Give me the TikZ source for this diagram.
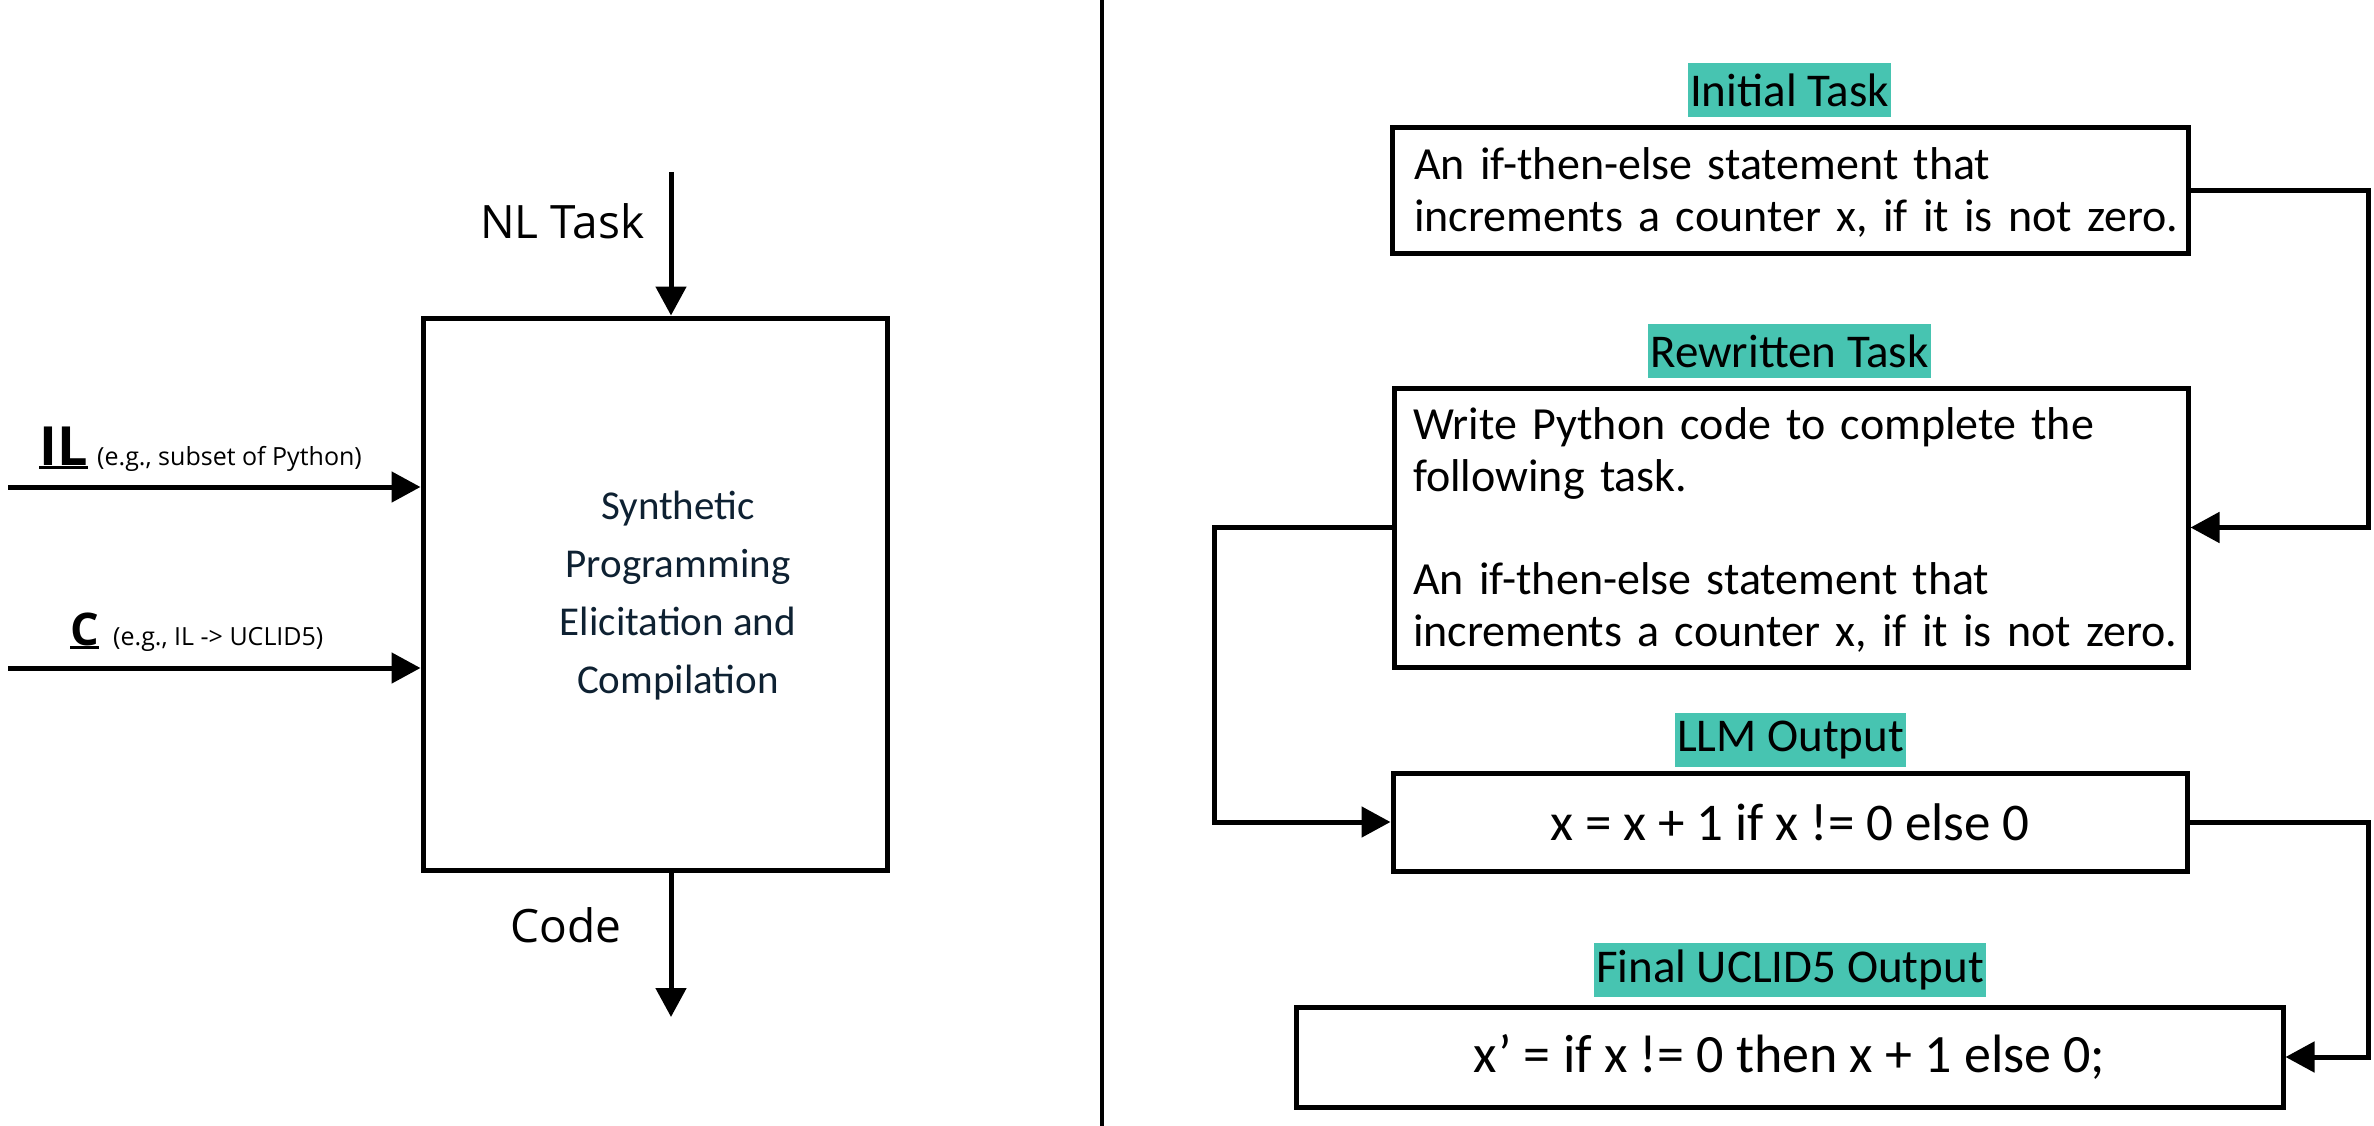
\documentclass[tikz,border=0pt]{standalone}
\usepackage{fontspec}
\setmainfont{Carlito}
\newfontfamily\plex{Open Sans}
\usetikzlibrary{arrows.meta}
\definecolor{tealhl}{HTML}{47C4B1}
\definecolor{navytxt}{HTML}{0E2132}
\newcommand\thickul[1]{\setbox0\hbox{#1}\rlap{\rule[-4pt]{\wd0}{3pt}}\box0}
\begin{document}
\begin{tikzpicture}[x=1pt,y=-1pt,
  conn/.style={line width=5pt},
  arr/.style={line width=5pt,-{Triangle[length=29pt,width=30pt]}},
  box/.style={draw,line width=5pt,inner sep=0pt},
  hl/.style={fill=tealhl,inner xsep=2pt,inner ysep=0pt,minimum height=54pt,font=\fontsize{47}{52}\selectfont},
  boxtext/.style={font=\fontsize{46}{52}\selectfont,align=left,text width=778pt,inner sep=0pt},
  plexlbl/.style={font=\plex\fontsize{46}{50}\selectfont,anchor=base west,inner sep=0pt},
  note/.style={font=\plex\fontsize{25}{28}\selectfont,anchor=base west,inner sep=0pt}]
\useasboundingbox (0,0) rectangle (2374,1126);

% ---------- left part ----------
\node[box,minimum width=464pt,minimum height=552pt] (spec) at (655,594) {};
\node[text=navytxt,align=center,font=\fontsize{41}{58}\selectfont] (spectext) at (678,596)
  {Synthetic\\Programming\\Elicitation and\\Compilation};

\coordinate (nl) at (671,172);
\draw[arr] (nl) -- (nl |- spec.north);
\node[plexlbl] (nllbl) at (480,238) {NL Task};

\coordinate (code) at (671,1017);
\draw[arr] (code |- spec.south) -- (code);
\node[plexlbl] (codelbl) at (510,942) {Code};

\coordinate (il) at (8,487);
\draw[arr] (il) -- (il -| spec.west);
\node[font=\plex\fontsize{54}{58}\selectfont\bfseries,anchor=base west,inner sep=0pt] (ilname) at (39,465) {\thickul{IL}};
\node[note] (ilnote) at (97,465) {(e.g., subset of Python)};

\coordinate (c) at (8,668);
\draw[arr] (c) -- (c -| spec.west);
\node[font=\plex\fontsize{45}{48}\selectfont\bfseries,anchor=base west,inner sep=0pt] (cname) at (70,645) {\thickul{C}};
\node[note] (cnote) at (113,645) {(e.g., IL -> UCLID5)};

% ---------- divider ----------
\coordinate (d1) at (1102,0);
\coordinate (d2) at (1102,1126);
\draw[line width=4.5pt] (d1) -- (d2);

% ---------- right part ----------
\node[hl] (initlbl) at (1789.5,90) {Initial Task};
\node[box,minimum width=796pt,minimum height=125pt] (init) at (1790,190.5) {};
\node[boxtext] (inittext) at (1803,192) {An if-then-else statement that\\increments a counter x, if it is not zero.};

\node[hl] (rewlbl) at (1789.5,351) {Rewritten Task};
\node[box,minimum width=794pt,minimum height=279pt] (rew) at (1791,527.5) {};
\node[boxtext] (rewtext) at (1802,530) {Write Python code to complete the\\following task.\\[51pt]An if-then-else statement that\\increments a counter x, if it is not zero.};

\node[hl] (llmlbl) at (1790.5,740) {LLM Output};
\node[box,minimum width=794pt,minimum height=98pt,font=\fontsize{53}{58}\selectfont] (llm) at (1790,822) {x = x + 1 if x != 0 else 0};

\node[hl] (finlbl) at (1790,970) {Final UCLID5 Output};
\node[box,minimum width=987pt,minimum height=100pt,font=\fontsize{54}{58}\selectfont] (fin) at (1789.5,1057) {x’ = if x != 0 then x + 1 else 0;};

\coordinate (r1) at (2368,190);
\coordinate (l1) at (1214,527);
\draw[arr] (init.east) -- (init.east -| r1) -- (r1 |- rew.east) -- (rew.east);
\draw[arr] (rew.west) -- (rew.west -| l1) -- (l1 |- llm.west) -- (llm.west);
\draw[arr] (llm.east) -- (llm.east -| r1) -- (r1 |- fin.east) -- (fin.east);
\end{tikzpicture}
\end{document}
